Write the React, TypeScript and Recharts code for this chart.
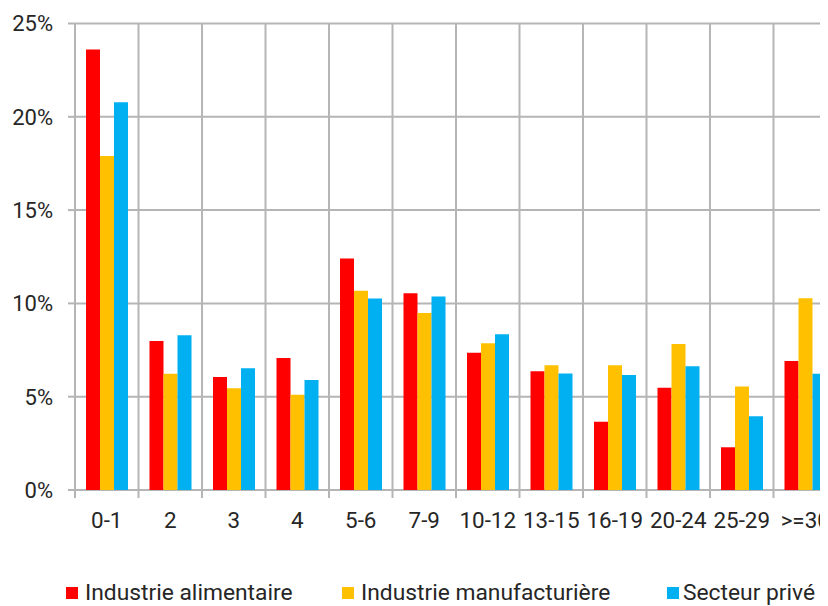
import React from 'react';
import { BarChart, Bar, XAxis, YAxis, CartesianGrid, Legend } from 'recharts';

// Size classes (employees) on the horizontal axis
const categories = ['0-1', '2', '3', '4', '5-6', '7-9', '10-12', '13-15', '16-19', '20-24', '25-29', '>=30'];

// Share of firms per size class, in percent
const alimentaire = [23.6, 7.98, 6.06, 7.07, 12.4, 10.55, 7.35, 6.36, 3.66, 5.48, 2.29, 6.91];
const manufacturiere = [17.9, 6.23, 5.45, 5.1, 10.68, 9.49, 7.86, 6.68, 6.68, 7.82, 5.54, 10.27];
const secteurPrive = [20.78, 8.29, 6.52, 5.9, 10.26, 10.37, 8.35, 6.25, 6.16, 6.63, 3.95, 6.23];

const yTicks = [0, 5, 10, 15, 20, 25];

const seriesKeys = ['alimentaire', 'manufacturiere', 'prive'];
const seriesNames = ['Industrie alimentaire', 'Industrie manufacturière', 'Secteur privé'];
const seriesColors = ['#FF0000', '#FFC000', '#00B0F0'];

const GRID = '#b5b5b5';
const TEXT = '#262626';
const FONT = 'Roboto, "Noto Sans", sans-serif';
const X_TICK_SIZE = 8;
const X_TICK_MARGIN = 14;

const data = categories.map((cat, i) => ({
  cat,
  alimentaire: alimentaire[i],
  manufacturiere: manufacturiere[i],
  prive: secteurPrive[i],
}));

// class boundaries, used for the vertical grid lines
const boundaryTicks = categories.map((_, i) => i).concat(categories.length);

const legendWidths = [276, 325, undefined];

function LegendContent(props: any) {
  const payload = props.payload || [];
  return (
    <div
      style={{
        height: 56,
        boxSizing: 'border-box',
        display: 'flex',
        alignItems: 'flex-end',
        paddingLeft: 58,
        paddingBottom: 4.5,
        fontFamily: FONT,
        fontSize: 22.8,
        lineHeight: '18px',
        color: TEXT,
      }}
    >
      {payload.map((entry: any, i: number) => (
        <div
          key={entry.value}
          style={{ display: 'flex', alignItems: 'center', width: legendWidths[i], flex: 'none' }}
        >
          <span
            style={{
              display: 'inline-block',
              width: 12,
              height: 12,
              background: entry.color,
              marginRight: i === 2 ? 4 : 7,
            }}
          />
          <span style={{ whiteSpace: 'nowrap' }}>{entry.value}</span>
        </div>
      ))}
    </div>
  );
}

// Category label plus the small tick marks that hang below the axis at class boundaries
function CategoryTick(props: any) {
  const { x, y, payload, index, visibleTicksCount } = props;
  const half = payload && payload.offset ? payload.offset : 0;
  const axisY = y - X_TICK_SIZE - X_TICK_MARGIN;
  const isLast = index === visibleTicksCount - 1;
  return (
    <g>
      <line x1={x - half} x2={x - half} y1={axisY} y2={axisY + X_TICK_SIZE} stroke={GRID} strokeWidth={2} />
      {isLast && (
        <line x1={x + half} x2={x + half} y1={axisY} y2={axisY + X_TICK_SIZE} stroke={GRID} strokeWidth={2} />
      )}
      <text x={x} y={y} dy="0.71em" textAnchor="middle" fill={TEXT} fontSize={22.4} fontFamily={FONT}>
        {payload.value}
      </text>
    </g>
  );
}

export default function App() {
  return (
    <div style={{ width: 820, height: 598, overflow: 'hidden', fontFamily: FONT }}>
      <BarChart
        width={829}
        height={598}
        data={data}
        margin={{ top: 15.5, right: 0, bottom: 0, left: 0 }}
        barGap={0}
        barSize={14}
      >
        <CartesianGrid
          stroke={GRID}
          strokeWidth={2}
          verticalCoordinatesGenerator={({ offset }: any) =>
            boundaryTicks.map((b) => offset.left + (b * offset.width) / categories.length)
          }
        />
        <XAxis
          dataKey="cat"
          interval={0}
          height={60}
          tickLine={false}
          axisLine={false}
          tickSize={X_TICK_SIZE}
          tickMargin={X_TICK_MARGIN}
          tick={CategoryTick}
        />
        <YAxis
          width={67}
          domain={[0, 25]}
          ticks={yTicks}
          interval={0}
          tickFormatter={(v: number) => `${v}%`}
          axisLine={false}
          tickSize={7}
          tickMargin={15}
          tickLine={{ stroke: GRID, strokeWidth: 2 }}
          tick={{ fill: TEXT, fontSize: 22, fontFamily: FONT }}
        />
        <Legend verticalAlign="bottom" height={56} content={<LegendContent />} />
        {seriesKeys.map((key, i) => (
          <Bar
            key={key}
            dataKey={key}
            name={seriesNames[i]}
            fill={seriesColors[i]}
            isAnimationActive={false}
          />
        ))}
      </BarChart>
    </div>
  );
}
